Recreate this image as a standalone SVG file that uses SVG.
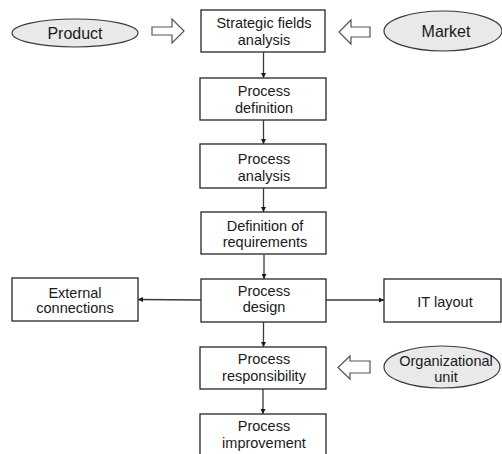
<svg xmlns="http://www.w3.org/2000/svg" width="502" height="454" viewBox="0 0 502 454">
  <defs>
    <style>
      .box { fill: #ffffff; stroke: #262626; stroke-width: 1.3; }
      .oval { fill: #e9e9e9; stroke: #3a3a3a; stroke-width: 1.2; }
      .block { fill: #ffffff; stroke: #555555; stroke-width: 1.2; stroke-linejoin: miter; }
      .lbl { font-family: "Liberation Sans", Arial, sans-serif; font-size: 14.5px; fill: #1a1a1a; text-anchor: middle; }
      .big { font-size: 16px; }
      .edge { fill: none; stroke: #3a3a3a; stroke-width: 1.3; marker-end: url(#tip); }
    </style>
    <marker id="tip" viewBox="0 0 8 8" refX="8" refY="4" markerWidth="5" markerHeight="5" markerUnits="userSpaceOnUse" orient="auto">
      <path d="M0,0 L8,4 L0,8 Z" fill="#1a1a1a"/>
    </marker>
  </defs>

  <!-- input ellipses -->
  <g id="product">
    <ellipse class="oval" cx="75" cy="33" rx="63" ry="14"/>
    <text class="lbl big" x="75" y="39">Product</text>
  </g>
  <g id="market">
    <ellipse class="oval" cx="443" cy="31" rx="59" ry="20"/>
    <text class="lbl big" x="446" y="37">Market</text>
  </g>
  <g id="org-unit">
    <ellipse class="oval" cx="442" cy="367" rx="58" ry="21"/>
    <text class="lbl" x="446" y="366">Organizational</text>
    <text class="lbl" x="446" y="382">unit</text>
  </g>

  <!-- block arrows feeding the chain -->
  <g id="product-arrow">
    <path class="block" d="M152,27 L172,27 L172,19 L184,31 L172,43 L172,35 L152,35 Z"/>
  </g>
  <g id="market-arrow">
    <path class="block" d="M370,27 L351,27 L351,20 L339,32 L351,44 L351,37 L370,37 Z"/>
  </g>
  <g id="org-arrow">
    <path class="block" d="M370,361 L350,361 L350,356 L338,367.5 L350,379 L350,373 L370,373 Z"/>
  </g>

  <!-- main process chain -->
  <g id="strategic">
    <rect class="box" x="201" y="10" width="124" height="42"/>
    <text class="lbl" x="264" y="27.5">Strategic fields</text>
    <text class="lbl" x="264" y="44.5">analysis</text>
  </g>
  <g id="definition">
    <rect class="box" x="200" y="78" width="126" height="42"/>
    <text class="lbl" x="264" y="95.5">Process</text>
    <text class="lbl" x="264" y="112.5">definition</text>
  </g>
  <g id="analysis">
    <rect class="box" x="200" y="144" width="126" height="44"/>
    <text class="lbl" x="264" y="164">Process</text>
    <text class="lbl" x="264" y="180.5">analysis</text>
  </g>
  <g id="requirements">
    <rect class="box" x="201" y="212" width="125" height="42"/>
    <text class="lbl" x="265" y="231">Definition of</text>
    <text class="lbl" x="265" y="247">requirements</text>
  </g>
  <g id="design">
    <rect class="box" x="201" y="279" width="125" height="43"/>
    <text class="lbl" x="264" y="296">Process</text>
    <text class="lbl" x="264" y="312">design</text>
  </g>
  <g id="responsibility">
    <rect class="box" x="200" y="347" width="126" height="42"/>
    <text class="lbl" x="264" y="364">Process</text>
    <text class="lbl" x="264" y="381">responsibility</text>
  </g>
  <g id="improvement">
    <rect class="box" x="200" y="414" width="126" height="50"/>
    <text class="lbl" x="264" y="431">Process</text>
    <text class="lbl" x="264" y="447.5">improvement</text>
  </g>

  <!-- side outputs -->
  <g id="external">
    <rect class="box" x="12" y="278" width="126" height="43"/>
    <text class="lbl" x="75" y="297.5">External</text>
    <text class="lbl" x="75" y="313">connections</text>
  </g>
  <g id="it-layout">
    <rect class="box" x="384" y="279" width="117" height="43"/>
    <text class="lbl" x="445" y="307">IT layout</text>
  </g>

  <!-- connectors -->
  <g id="connectors">
    <line class="edge" x1="263.5" y1="52" x2="263.5" y2="78"/>
    <line class="edge" x1="263.5" y1="120" x2="263.5" y2="144"/>
    <line class="edge" x1="263.5" y1="188" x2="263.5" y2="212"/>
    <line class="edge" x1="264" y1="254" x2="264" y2="279"/>
    <line class="edge" x1="263.5" y1="322" x2="263.5" y2="347"/>
    <line class="edge" x1="263" y1="389" x2="263" y2="414"/>
    <line class="edge" x1="201" y1="300" x2="138" y2="299.5"/>
    <line class="edge" x1="326" y1="300" x2="384" y2="300"/>
  </g>
</svg>
